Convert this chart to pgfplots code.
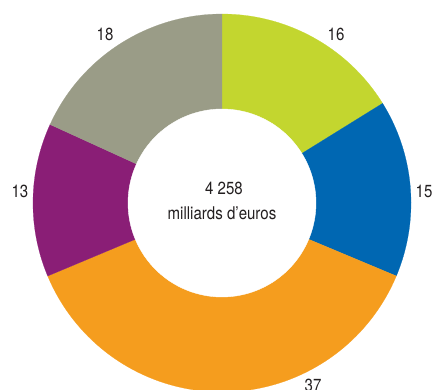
\documentclass[border=0pt]{standalone}
\usepackage{pgfplots}
\pgfplotsset{compat=1.18}
\usepackage{fontspec}
\setmainfont{TeX Gyre Heros}[FakeStretch=0.86]
\definecolor{cA}{HTML}{C3D62F}
\definecolor{cB}{HTML}{0067B2}
\definecolor{cC}{HTML}{F59D1E}
\definecolor{cD}{HTML}{8A1E76}
\definecolor{cE}{HTML}{9A9C87}
\definecolor{txt}{HTML}{231F20}
% slice: start (cumulative), value, colour ; total = 99
\newcommand\slice[3]{%
  \addplot[fill=#3, draw=#3, line width=0.2pt, domain={90-(#1)*360/99}:{90-(#1+#2)*360/99}, samples=80]
    ({222+189*cos(x)},{187+189*sin(x)}) -- (axis cs:222,187) -- cycle;%
}
\begin{document}
\begin{tikzpicture}
\begin{axis}[
  at={(0,0)}, anchor=south west,
  width=435bp, height=390bp, scale only axis,
  xmin=0, xmax=435, ymin=0, ymax=390,
  hide axis, clip=true,
]
\slice{0}{16}{cA}
\slice{16}{15}{cB}
\slice{31}{37}{cC}
\slice{68}{13}{cD}
\slice{81}{18}{cE}
\addplot[fill=white, draw=white, domain=0:360, samples=120] ({222+94*cos(x)},{187+94*sin(x)}) -- cycle;
\begin{scope}[every node/.style={font=\fontsize{17.5bp}{20bp}\selectfont, text=txt, anchor=base, inner sep=0pt}]
\node at (axis cs:336,349.5) {16};
\node at (axis cs:424,192) {15};
\node at (axis cs:313,-2) {37};
\node at (axis cs:20,192) {13};
\node at (axis cs:105,349.5) {18};
\node at (axis cs:224,195) {4 258};
\node at (axis cs:222,170) {milliards d’euros};
\end{scope}
\end{axis}
\pgfresetboundingbox
\useasboundingbox (0,0) rectangle (435bp,390bp);
\end{tikzpicture}
\end{document}
